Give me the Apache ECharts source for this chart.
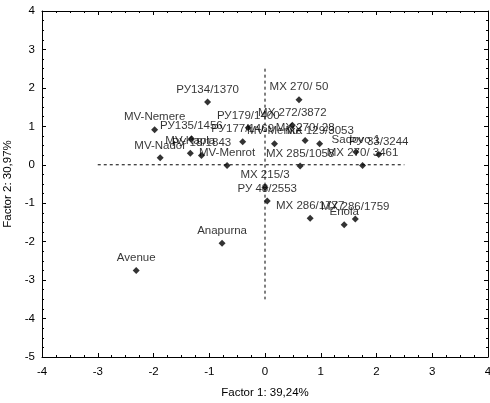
<!DOCTYPE html>
<html><head><meta charset="utf-8">
<script src="https://cdn.jsdelivr.net/npm/echarts@6/dist/echarts.min.js"></script>
<style>html,body{margin:0;padding:0;background:#fff}#c{width:490px;height:403px}</style>
</head><body><div id="c"></div>
<script>
const names = ["РУ134/1370","MX 270/ 50","MV-Nemere","РУ135/1456","MV-Kapla","РУ 18/1843","MV-Nador","MV-Menrot","РУ179/1400","РУ177/1469","MV-Menke","MX 272/3872","MX 270/ 28","MX 129/3053","MX 285/1058","Sadovo 1","РУ 33/3244","MX 270/ 3461","MX 215/3","РУ 48/2553","MX 286/1777","MX 286/1759","Enola","Anapurna","Avenue"];
const factor1 = [-1.03,0.61,-1.98,-1.32,-1.34,-1.14,-1.88,-0.68,-0.30,-0.40,0.17,0.49,0.72,0.98,0.63,1.63,2.04,1.75,0.00,0.04,0.81,1.62,1.42,-0.77,-2.31];
const factor2 = [1.63,1.69,0.91,0.68,0.30,0.24,0.18,-0.02,0.96,0.60,0.55,1.03,0.63,0.55,-0.03,0.33,0.27,-0.02,-0.59,-0.94,-1.39,-1.41,-1.56,-2.04,-2.75];
const hLine = [[-3,0],[2.5,0]];
const vLine = [[0,2.5],[0,-3.5]];
const xTicks = [-4,-3,-2,-1,0,1,2,3,4];
const yTicks = [-5,-4,-3,-2,-1,0,1,2,3,4];

const font = 'Arial, "Liberation Sans", sans-serif';
const fs = 11.5;
const chart = echarts.init(document.getElementById('c'));
const baseAxis = {
  interval: 1,
  axisLine: {show: true, onZero: false, lineStyle: {color: '#000', width: 1}},
  axisTick: {show: true, inside: true, length: 4, lineStyle: {color: '#000'}},
  minorTick: {show: true, splitNumber: 4, length: 2, lineStyle: {color: '#000'}},
  splitLine: {show: false},
  axisLabel: {color: '#000', fontFamily: font, fontSize: fs}
};
function ax(o){ return Object.assign({}, JSON.parse(JSON.stringify(baseAxis)), o); }
chart.setOption({
  animation: false,
  grid: {left: 42, right: 2, top: 11, bottom: 46, containLabel: false, outerBoundsMode: 'none'},
  xAxis: [
    ax({type:'value', position:'bottom', min: xTicks[0], max: xTicks[xTicks.length-1],
      name: 'Factor 1: 39,24%', nameLocation: 'middle', nameGap: 30,
      nameTextStyle: {color:'#000', fontFamily: font, fontSize: fs},
      axisLabel: {color:'#000', fontFamily: font, fontSize: fs, margin: 9}}),
    ax({type:'value', position:'top', min: xTicks[0], max: xTicks[xTicks.length-1], axisLabel:{show:false}})
  ],
  yAxis: [
    ax({type:'value', position:'left', min: yTicks[0], max: yTicks[yTicks.length-1],
      name: 'Factor 2: 30,97%', nameLocation: 'middle', nameGap: 22,
      nameTextStyle: {color:'#000', fontFamily: font, fontSize: fs},
      axisLabel: {color:'#000', fontFamily: font, fontSize: fs, margin: 7}}),
    ax({type:'value', position:'right', min: yTicks[0], max: yTicks[yTicks.length-1], axisLabel:{show:false}})
  ],
  series: [
    {type:'line', data: hLine, symbol:'none', lineStyle:{color:'#000', width:1, type:[3,3]}, silent:true},
    {type:'line', data: vLine, symbol:'none', lineStyle:{color:'#000', width:1, type:[3,3]}, silent:true},
    {type:'scatter', symbol:'diamond', symbolSize: 7,
      itemStyle:{color:'#000'},
      data: names.map((n,i)=>({name:n, value:[factor1[i], factor2[i]]})),
      label:{show:true, position:'top', distance:3, formatter: p=>p.name, color:'#000', fontFamily: font, fontSize: fs}
    }
  ]
});
</script></body></html>
